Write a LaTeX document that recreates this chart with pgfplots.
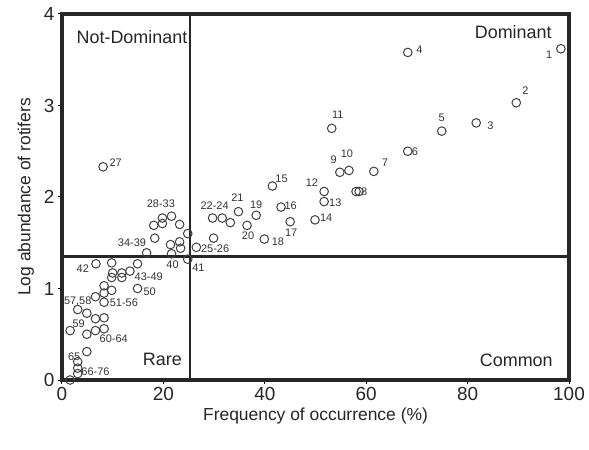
\documentclass[border=0pt]{standalone}
\usepackage{pgfplots}
\pgfplotsset{compat=1.18}
\usepackage{fontspec}
\setmainfont{Liberation Sans}
\newcommand{\lbl}{\fontsize{11}{12}\selectfont}
\newcommand{\qlbl}{\fontsize{18}{20}\selectfont}
\begin{document}
\begin{tikzpicture}
\begin{axis}[
  at={(0,0)}, anchor=south west,
  scale only axis, width=507bp, height=366bp,
  xmin=0, xmax=100, ymin=0, ymax=4,
  xtick={0,20,40,60,80,100}, ytick={0,1,2,3,4},
  tick align=outside, xtick pos=bottom, ytick pos=left,
  major tick length=4bp,
  tick style={black, line width=1bp},
  axis line style={line width=3.5bp, black!85},
  /pgf/number format/assume math mode=true,
  ticklabel style={font=\fontsize{19}{21}\selectfont, text=black!85},
  xlabel={Frequency of occurrence (\%)},
  ylabel={Log abundance of rotifers},
  label style={font=\fontsize{17.5}{20}\selectfont, text=black!85},
  ylabel style={yshift=3bp},
  clip=false,
]
% quadrant lines
\addplot[line width=2.2bp, black!85] coordinates {(25.3,0) (25.3,4)};
\addplot[line width=2.2bp, black!85] coordinates {(0,1.35) (100,1.35)};
% points
\addplot[only marks, mark=o, mark size=4.3bp, mark options={line width=1bp, draw=black!75}] table {
x y
98.4 3.62
89.6 3.03
81.7 2.81
68.2 3.58
74.9 2.72
68.2 2.50
61.5 2.28
58.0 2.06
58.6 2.06
54.8 2.27
56.6 2.29
53.2 2.75
51.7 2.06
51.7 1.95
49.9 1.75
41.5 2.12
43.2 1.89
45.0 1.73
39.9 1.54
38.3 1.80
36.5 1.69
34.8 1.84
29.7 1.77
31.6 1.77
33.2 1.72
29.9 1.55
26.5 1.45
8.1 2.33
19.8 1.77
21.6 1.79
18.1 1.69
19.8 1.71
23.2 1.70
18.3 1.55
16.7 1.39
21.4 1.48
23.2 1.51
23.4 1.44
21.6 1.38
24.8 1.60
24.8 1.32
6.7 1.27
9.8 1.28
14.9 1.27
9.8 1.12
10.0 1.17
11.8 1.17
11.8 1.12
13.4 1.19
14.9 1.00
8.3 1.03
9.8 0.98
8.3 0.95
6.6 0.91
8.3 0.85
3.1 0.77
4.9 0.73
6.6 0.67
8.3 0.68
8.3 0.56
6.6 0.54
4.9 0.50
1.6 0.54
4.9 0.31
3.1 0.20
3.1 0.13
3.1 0.07
1.6 0.00
};
% point labels
\begin{scope}[every node/.style={font=\lbl, text=black!80, inner sep=0pt}]
\node at (axis cs:96.1,3.56) {1};
\node at (axis cs:91.4,3.16) {2};
\node at (axis cs:84.5,2.78) {3};
\node at (axis cs:70.5,3.61) {4};
\node at (axis cs:74.9,2.87) {5};
\node at (axis cs:69.6,2.50) {6};
\node at (axis cs:63.7,2.37) {7};
\node at (axis cs:59.6,2.06) {8};
\node at (axis cs:53.6,2.41) {9};
\node at (axis cs:56.2,2.47) {10};
\node at (axis cs:54.4,2.90) {11};
\node at (axis cs:49.3,2.16) {12};
\node at (axis cs:53.9,1.94) {13};
\node at (axis cs:52.1,1.77) {14};
\node at (axis cs:43.3,2.20) {15};
\node at (axis cs:45.1,1.91) {16};
\node at (axis cs:45.2,1.61) {17};
\node at (axis cs:42.6,1.51) {18};
\node at (axis cs:38.3,1.92) {19};
\node at (axis cs:36.7,1.58) {20};
\node at (axis cs:34.6,1.99) {21};
\node at (axis cs:30.1,1.90) {22-24};
\node at (axis cs:30.2,1.43) {25-26};
\node at (axis cs:10.6,2.38) {27};
\node at (axis cs:19.5,1.93) {28-33};
\node at (axis cs:13.8,1.50) {34-39};
\node at (axis cs:21.8,1.26) {40};
\node at (axis cs:26.9,1.23) {41};
\node at (axis cs:4.1,1.22) {42};
\node at (axis cs:17.1,1.13) {43-49};
\node at (axis cs:17.3,0.97) {50};
\node at (axis cs:12.2,0.84) {51-56};
\node at (axis cs:3.1,0.86) {57,58};
\node at (axis cs:3.3,0.62) {59};
\node at (axis cs:10.2,0.45) {60-64};
\node at (axis cs:2.4,0.25) {65};
\node at (axis cs:6.6,0.09) {66-76};
\end{scope}
% quadrant names
\begin{scope}[every node/.style={font=\qlbl, text=black!85, inner sep=0pt}]
\node at (axis cs:13.8,3.75) {Not-Dominant};
\node at (axis cs:89.0,3.80) {Dominant};
\node at (axis cs:19.8,0.22) {Rare};
\node at (axis cs:89.6,0.22) {Common};
\end{scope}
\end{axis}
\pgfresetboundingbox
\path (-62bp,-70bp) rectangle (527bp,380bp);
\end{tikzpicture}
\end{document}
